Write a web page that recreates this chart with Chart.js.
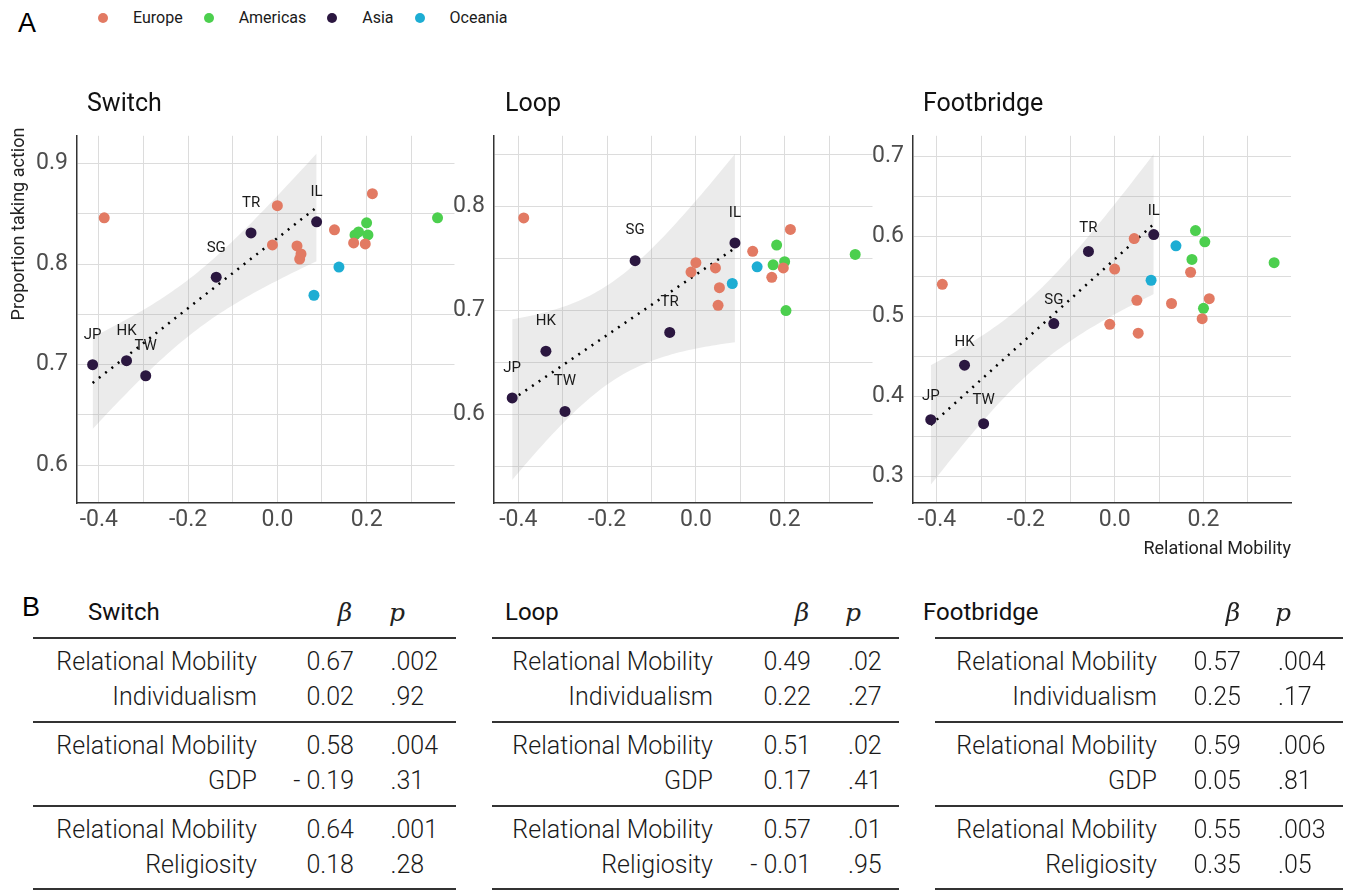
<!DOCTYPE html>
<html>
<head>
<meta charset="utf-8">
<script src="https://cdn.jsdelivr.net/npm/chart.js@4.4.1/dist/chart.umd.min.js"></script>
<style>
  body { margin: 0; background: #fff; width: 1347px; height: 890px; position: relative; overflow: hidden; font-family: Roboto, sans-serif; color: #1a1a1a; }
  .t { position: absolute; white-space: nowrap; }
  .wrap { position: absolute; }
  .rule { position: absolute; height: 1.5px; background: #333; }
  .dot { display: inline-block; width: 10px; height: 10px; border-radius: 50%; margin-right: 25px; }
  #legend { position: absolute; left: 98px; top: 8px; height: 20px; display: flex; align-items: center; font-size: 16px; line-height: 20px; }
  #legend span.lab { margin-right: 21px; }
</style>
</head>
<body>
<div id="legend"></div>
<div class="wrap" style="left:0px;top:113px;width:460px;height:435px"><canvas id="cSwitch"></canvas></div>
<div class="wrap" style="left:434px;top:113px;width:444px;height:435px"><canvas id="cLoop"></canvas></div>
<div class="wrap" style="left:853px;top:113px;width:448px;height:435px"><canvas id="cFoot"></canvas></div>

<script>
// regions
const regions = ['Europe', 'Americas', 'Asia', 'Oceania'];
const regionColors = ['#E27A63', '#4CCF4E', '#2B1740', '#1DADD3'];

// relational mobility (x) per country, grouped by region
const europeRM = [-0.388, -0.011, 0.000, 0.044, 0.050, 0.053, 0.128, 0.171, 0.197, 0.213];
const americasRM = [0.174, 0.182, 0.200, 0.203, 0.359];
const asiaRM = [-0.414, -0.338, -0.295, -0.137, -0.059, 0.088];
const asiaCodes = ['JP', 'HK', 'TW', 'SG', 'TR', 'IL'];
const oceaniaRM = [0.082, 0.138];

// proportion taking action, Switch
const switchEurope = [0.846, 0.819, 0.858, 0.818, 0.805, 0.810, 0.834, 0.821, 0.820, 0.870];
const switchAmericas = [0.829, 0.832, 0.841, 0.829, 0.846];
const switchAsia = [0.700, 0.704, 0.689, 0.787, 0.831, 0.842];
const switchOceania = [0.769, 0.797];

// Loop
const loopEurope = [0.789, 0.737, 0.746, 0.741, 0.705, 0.722, 0.757, 0.732, 0.741, 0.778];
const loopAmericas = [0.744, 0.763, 0.747, 0.700, 0.754];
const loopAsia = [0.616, 0.661, 0.603, 0.748, 0.679, 0.765];
const loopOceania = [0.726, 0.742];

// Footbridge
const footEurope = [0.540, 0.490, 0.559, 0.597, 0.520, 0.479, 0.516, 0.555, 0.497, 0.522];
const footAmericas = [0.571, 0.607, 0.510, 0.593, 0.567];
const footAsia = [0.371, 0.439, 0.366, 0.491, 0.581, 0.602];
const footOceania = [0.545, 0.588];

// panel B tables
const predictors = ['Relational Mobility', 'Individualism', 'Relational Mobility', 'GDP', 'Relational Mobility', 'Religiosity'];
const switchBeta = ['0.67', '0.02', '0.58', '- 0.19', '0.64', '0.18'];
const switchP = ['.002', '.92', '.004', '.31', '.001', '.28'];
const loopBeta = ['0.49', '0.22', '0.51', '0.17', '0.57', '- 0.01'];
const loopP = ['.02', '.27', '.02', '.41', '.01', '.95'];
const footBeta = ['0.57', '0.25', '0.59', '0.05', '0.55', '0.35'];
const footP = ['.004', '.17', '.006', '.81', '.003', '.05'];

const T_CRIT = 2.776;   // t(0.975, df = 4) for the lm band on 6 Asian countries
const NUDGE = 0.029;    // label offset above point, data units

function text(str, x, cy, size, opt) {
  opt = opt || {};
  const d = document.createElement('div');
  d.className = 't';
  d.textContent = str;
  d.style.left = x + 'px';
  d.style.top = (cy - size / 2) + 'px';
  d.style.fontSize = size + 'px';
  d.style.lineHeight = size + 'px';
  if (opt.align === 'right') d.style.transform = 'translateX(-100%)';
  if (opt.align === 'center') d.style.transform = 'translateX(-50%)';
  if (opt.weight) d.style.fontWeight = opt.weight;
  if (opt.family) d.style.fontFamily = opt.family;
  if (opt.italic) d.style.fontStyle = 'italic';
  if (opt.color) d.style.color = opt.color;
  document.body.appendChild(d);
  return d;
}

// legend
const legend = document.getElementById('legend');
regions.forEach((r, i) => {
  const dot = document.createElement('span');
  dot.className = 'dot';
  dot.style.background = regionColors[i];
  const lab = document.createElement('span');
  lab.className = 'lab';
  lab.textContent = r;
  legend.appendChild(dot);
  legend.appendChild(lab);
});

// panel letters, titles, axis titles
text('A', 18, 23, 27, { family: '"Liberation Sans", Arial, sans-serif', color: '#000' });
text('B', 22, 607, 27, { family: '"Liberation Sans", Arial, sans-serif', color: '#000' });
text('Switch', 87, 102, 25, { color: '#111' });
text('Loop', 505, 102, 25, { color: '#111' });
text('Footbridge', 923, 102, 25, { color: '#111' });
text('Relational Mobility', 1291, 548, 18, { align: 'right', color: '#222' });
const yt = text('Proportion taking action', -102, 224, 18, { color: '#222' });
yt.style.width = '240px';
yt.style.textAlign = 'center';
yt.style.transform = 'rotate(-90deg)';
yt.style.left = (18 - 120) + 'px';

function pts(xs, ys) {
  return xs.map((x, i) => ({ x: x, y: ys[i] }));
}

function olsBand(xs, ys, steps) {
  const n = xs.length;
  const mx = xs.reduce((a, b) => a + b, 0) / n;
  const my = ys.reduce((a, b) => a + b, 0) / n;
  let sxx = 0, sxy = 0;
  xs.forEach((x, i) => { sxx += (x - mx) ** 2; sxy += (x - mx) * (ys[i] - my); });
  const b = sxy / sxx, a = my - b * mx;
  let sse = 0;
  xs.forEach((x, i) => { sse += (ys[i] - a - b * x) ** 2; });
  const s = Math.sqrt(sse / (n - 2));
  const lo = Math.min(...xs), hi = Math.max(...xs);
  const upper = [], lower = [];
  for (let k = 0; k <= steps; k++) {
    const x = lo + (hi - lo) * k / steps;
    const yhat = a + b * x;
    const se = s * Math.sqrt(1 / n + (x - mx) ** 2 / sxx);
    upper.push({ x: x, y: yhat + T_CRIT * se });
    lower.push({ x: x, y: yhat - T_CRIT * se });
  }
  const fit = [{ x: lo, y: a + b * lo }, { x: hi, y: a + b * hi }];
  return { fit: fit, upper: upper, lower: lower };
}

const codeLabels = {
  id: 'codeLabels',
  afterDatasetsDraw(chart, args, opts) {
    const ctx = chart.ctx;
    const xs = chart.scales.x, ys = chart.scales.y;
    ctx.save();
    ctx.font = '15px Roboto, sans-serif';
    ctx.fillStyle = '#1a1a1a';
    ctx.textAlign = 'center';
    ctx.textBaseline = 'middle';
    asiaCodes.forEach((c, i) => {
      ctx.fillText(c, xs.getPixelForValue(asiaRM[i]), ys.getPixelForValue(opts.y[i] + NUDGE));
    });
    ctx.restore();
  }
};

function makeChart(id, yAxisWidth, rightPad, xr, yr, series) {
  const band = olsBand(asiaRM, series[2], 60);
  const pointSets = [europeRM, americasRM, asiaRM, oceaniaRM].map((xs, i) => ({
    label: regions[i],
    data: pts(xs, series[i]),
    showLine: false,
    pointRadius: 5.5,
    pointHoverRadius: 5.5,
    pointBorderWidth: 0,
    pointBackgroundColor: regionColors[i],
    order: 0
  }));
  new Chart(document.getElementById(id), {
    type: 'line',
    data: {
      datasets: pointSets.concat([
        { label: 'fit', data: band.fit, borderColor: '#000', borderWidth: 2.5, borderDash: [2, 6],
          pointRadius: 0, fill: false, order: 1 },
        { label: 'upper', data: band.upper, borderWidth: 0, pointRadius: 0, fill: '+1',
          backgroundColor: 'rgba(153,153,153,0.2)', order: 2 },
        { label: 'lower', data: band.lower, borderWidth: 0, pointRadius: 0, fill: false, order: 2 }
      ])
    },
    options: {
      responsive: true,
      maintainAspectRatio: false,
      animation: false,
      events: [],
      layout: { padding: { top: 10, right: rightPad, left: 0, bottom: 0 } },
      plugins: { legend: { display: false }, tooltip: { enabled: false }, codeLabels: { y: series[2] } },
      scales: {
        x: {
          type: 'linear', min: xr[0], max: xr[1],
          afterFit: s => { s.height = 45; },
          grid: { color: '#dcdcdc', drawTicks: false },
          border: { color: '#333', width: 1.5 },
          ticks: {
            stepSize: 0.1, includeBounds: false, autoSkip: false, maxRotation: 0, maxTicksLimit: 20, padding: 3,
            color: '#4d4d4d', font: { family: 'Roboto', size: 23 },
            callback: v => { const r = Math.round(v * 10); return r % 2 === 0 ? (r / 10).toFixed(1) : ''; }
          }
        },
        y: {
          type: 'linear', min: yr[0], max: yr[1],
          afterFit: s => { s.width = yAxisWidth; },
          grid: { color: '#dcdcdc', drawTicks: false },
          border: { color: '#333', width: 1.5 },
          ticks: {
            stepSize: 0.05, includeBounds: false, autoSkip: false, maxTicksLimit: 20, padding: 9,
            color: '#4d4d4d', font: { family: 'Roboto', size: 23 },
            callback: v => { const r = Math.round(v * 100); return r % 10 === 0 ? (r / 100).toFixed(1) : ''; }
          }
        }
      }
    },
    plugins: [codeLabels]
  });
}

makeChart('cSwitch', 77, 5, [-0.449, 0.397], [0.5625, 0.9275], [switchEurope, switchAmericas, switchAsia, switchOceania]);
makeChart('cLoop', 60, 5, [-0.455, 0.398], [0.515, 0.868], [loopEurope, loopAmericas, loopAsia, loopOceania]);
makeChart('cFoot', 60, 10, [-0.454, 0.397], [0.267, 0.7253], [footEurope, footAmericas, footAsia, footOceania]);

// tables
const rowY = [661.7, 696.7, 745, 780, 829.3, 864];
const ruleY = [638, 722, 806, 889];
const tables = [
  { title: 'Switch', tx: 88, l: 33, r: 456, lab: 257, beta: 354, p: 390.5, bx: 345, px: 397, betas: switchBeta, ps: switchP },
  { title: 'Loop', tx: 505, l: 492, r: 899, lab: 713, beta: 811, p: 848, bx: 802, px: 853, betas: loopBeta, ps: loopP },
  { title: 'Footbridge', tx: 923, l: 935, r: 1343, lab: 1157, beta: 1241, p: 1278, bx: 1233, px: 1283, betas: footBeta, ps: footP }
];
tables.forEach(tb => {
  text(tb.title, tb.tx, 611.7, 24, { color: '#111' });
  text('\u03B2', tb.bx, 612, 25, { align: 'center', italic: true, family: '"DejaVu Serif", serif', color: '#222' });
  text('p', tb.px, 612, 25, { align: 'center', italic: true, family: '"DejaVu Serif", serif', color: '#222' });
  ruleY.forEach(y => {
    const d = document.createElement('div');
    d.className = 'rule';
    d.style.left = tb.l + 'px';
    d.style.width = (tb.r - tb.l) + 'px';
    d.style.top = (y - 0.75) + 'px';
    document.body.appendChild(d);
  });
  rowY.forEach((y, i) => {
    text(predictors[i], tb.lab, y, 25, { align: 'right', weight: 300 });
    text(tb.betas[i], tb.beta, y, 25, { align: 'right', weight: 300 });
    text(tb.ps[i], tb.p, y, 25, { weight: 300 });
  });
});
</script>
</body>
</html>
